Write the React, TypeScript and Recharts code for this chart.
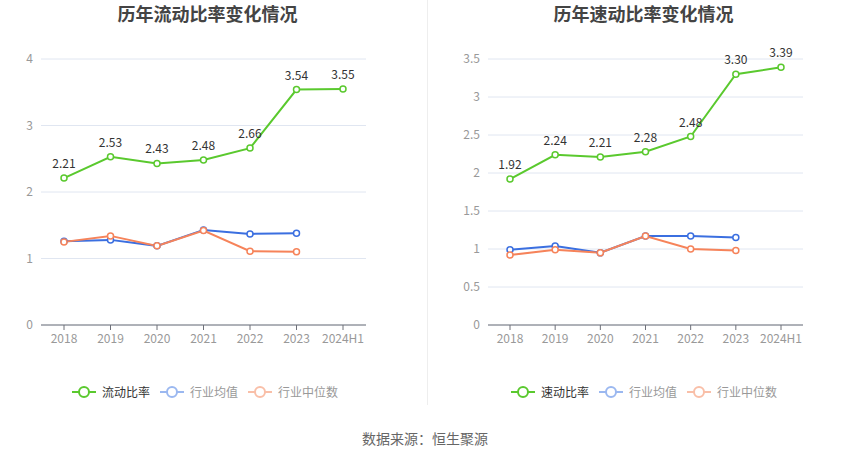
import React from "react";
import { LineChart, Line, XAxis, YAxis, CartesianGrid, LabelList } from "recharts";

const years = ["2018", "2019", "2020", "2021", "2022", "2023", "2024H1"];
const currentRatio = [2.21, 2.53, 2.43, 2.48, 2.66, 3.54, 3.55];
const currentAvg = [1.26, 1.28, 1.19, 1.43, 1.37, 1.38, null];
const currentMedian = [1.25, 1.34, 1.19, 1.42, 1.11, 1.1, null];
const quickRatio = [1.92, 2.24, 2.21, 2.28, 2.48, 3.3, 3.39];
const quickAvg = [0.99, 1.04, 0.95, 1.17, 1.17, 1.15, null];
const quickMedian = [0.92, 0.99, 0.95, 1.17, 1.0, 0.98, null];
const leftTicks = [0, 1, 2, 3, 4];
const rightTicks = [0, 0.5, 1, 1.5, 2, 2.5, 3, 3.5];

const GREEN = "#5ac92e";
const BLUE = "#3b6fe0";
const ORANGE = "#f6835a";
const FONT = "'Noto Sans CJK SC', 'Noto Sans', sans-serif";

const build = (main: number[], avg: (number | null)[], med: (number | null)[]) =>
  years.map((y, i) => ({ year: y, main: main[i], avg: avg[i], med: med[i] }));

const leftData = build(currentRatio, currentAvg, currentMedian);
const rightData = build(quickRatio, quickAvg, quickMedian);

const fmtTick = (v: number) => String(v);

function LegendItem({ color, text, textColor }: { color: string; text: string; textColor: string }) {
  return (
    <div style={{ display: "flex", alignItems: "center", marginRight: 10 }}>
      <svg width={24} height={14} style={{ marginRight: 6 }}>
        <line x1={0} y1={7} x2={24} y2={7} stroke={color} strokeWidth={2} />
        <circle cx={12} cy={7} r={5} fill="#fff" stroke={color} strokeWidth={2} />
      </svg>
      <span style={{ fontSize: 12, color: textColor }}>{text}</span>
    </div>
  );
}

function Panel({
  left,
  title,
  titleShift,
  data,
  mainName,
  ticks,
  domainMax,
  yWidth,
  rightMargin,
  pad,
  legendLeft,
}: {
  left: number;
  title: string;
  titleShift: number;
  data: any[];
  mainName: string;
  ticks: number[];
  domainMax: number;
  yWidth: number;
  rightMargin: number;
  pad: number;
  legendLeft: number;
}) {
  return (
    <div style={{ position: "absolute", left, top: 0, width: 425, height: 459 }}>
      <div
        style={{
          position: "absolute",
          top: 0,
          left: titleShift,
          width: 425,
          textAlign: "center",
          fontSize: 18,
          lineHeight: "26px",
          fontWeight: 700,
          color: "#444",
          fontFamily: FONT,
        }}
      >
        {title}
      </div>
      <LineChart
        width={425}
        height={459}
        data={data}
        margin={{ top: 59, right: rightMargin, bottom: 104, left: 0 }}
        style={{ fontFamily: FONT }}
      >
        <CartesianGrid vertical={false} stroke="#e0e6f1" />
        <XAxis
          dataKey="year"
          interval={0}
          height={30}
          padding={{ left: pad, right: pad }}
          stroke="#6e7079"
          tick={{ fill: "#999", fontSize: 12 }}
          tickSize={5}
          tickMargin={4}
        />
        <YAxis
          width={yWidth}
          domain={[0, domainMax]}
          ticks={ticks}
          axisLine={false}
          tickLine={false}
          tickFormatter={fmtTick}
          tick={{ fill: "#999", fontSize: 12 }}
        />
        <Line
          dataKey="avg"
          stroke={BLUE}
          strokeWidth={2}
          dot={{ r: 3, fill: "#fff", stroke: BLUE, strokeWidth: 1.5 }}
          isAnimationActive={false}
          connectNulls={false}
        />
        <Line
          dataKey="med"
          stroke={ORANGE}
          strokeWidth={2}
          dot={{ r: 3, fill: "#fff", stroke: ORANGE, strokeWidth: 1.5 }}
          isAnimationActive={false}
          connectNulls={false}
        />
        <Line
          dataKey="main"
          stroke={GREEN}
          strokeWidth={2}
          dot={{ r: 3, fill: "#fff", stroke: GREEN, strokeWidth: 1.5 }}
          isAnimationActive={false}
        >
          <LabelList
            dataKey="main"
            position="top"
            offset={10}
            formatter={(v: any) => Number(v).toFixed(2)}
            style={{ fill: "#333", fontSize: 12 }}
          />
        </Line>
      </LineChart>
      <div
        style={{
          position: "absolute",
          top: 383,
          left: legendLeft,
          display: "flex",
          fontFamily: FONT,
        }}
      >
        <LegendItem color={GREEN} text={mainName} textColor="#333" />
        <LegendItem color="#9bb8f0" text="行业均值" textColor="#999" />
        <LegendItem color="#f9bfa8" text="行业中位数" textColor="#999" />
      </div>
    </div>
  );
}

export default function App() {
  return (
    <div
      style={{
        position: "absolute",
        left: 0,
        top: 0,
        width: 850,
        height: 459,
        background: "#fff",
        overflow: "hidden",
        fontFamily: FONT,
      }}
    >
      <Panel
        left={0}
        title="历年流动比率变化情况"
        titleShift={-5}
        data={leftData}
        mainName="流动比率"
        ticks={leftTicks}
        domainMax={4}
        yWidth={41}
        rightMargin={59}
        pad={23}
        legendLeft={72}
      />
      <Panel
        left={425}
        title="历年速动比率变化情况"
        titleShift={6}
        data={rightData}
        mainName="速动比率"
        ticks={rightTicks}
        domainMax={3.5}
        yWidth={63}
        rightMargin={47}
        pad={22}
        legendLeft={86}
      />
      <div style={{ position: "absolute", left: 427, top: 0, width: 1, height: 405, background: "#eee" }} />
      <div
        style={{
          position: "absolute",
          top: 428,
          left: 0,
          width: 850,
          textAlign: "center",
          fontSize: 14,
          lineHeight: "20px",
          color: "#666",
        }}
      >
        数据来源：恒生聚源
      </div>
    </div>
  );
}
